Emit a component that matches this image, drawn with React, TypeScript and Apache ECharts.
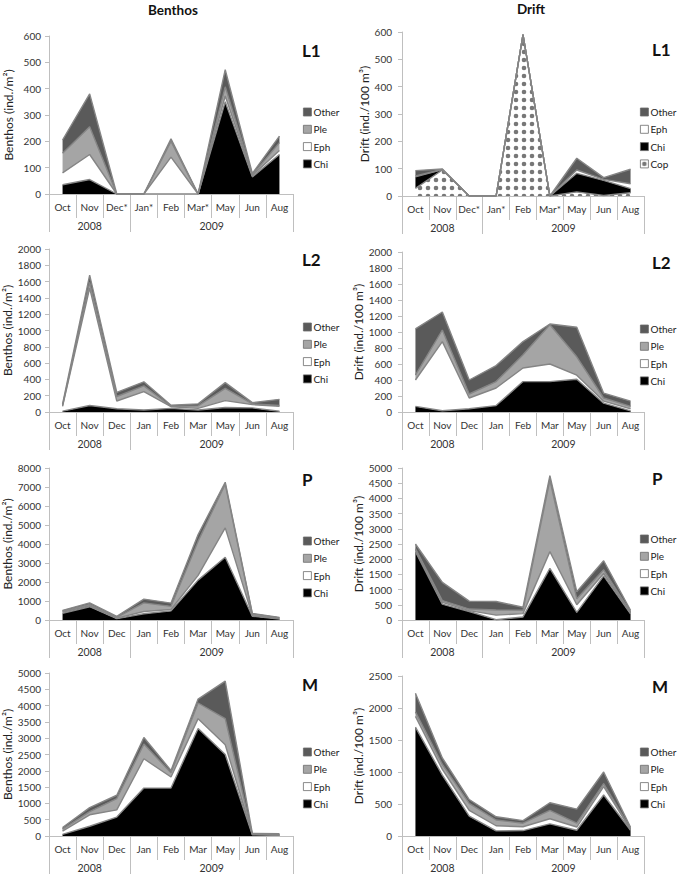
import React, { useEffect, useRef } from 'react';
import * as echarts from 'echarts';

// ---------- categories ----------
const monthsL1 = ['Oct', 'Nov', 'Dec*', 'Jan*', 'Feb', 'Mar*', 'May', 'Jun', 'Aug'];
const months = ['Oct', 'Nov', 'Dec', 'Jan', 'Feb', 'Mar', 'May', 'Jun', 'Aug'];
const yearLabels = ['2008', '2009'];
const yearBounds = [0, 3, 9]; // month-index boundaries of the years
const yearCenters = [1.5, 6];

// ---------- Benthos L1 ----------
const benL1Chi = [35, 55, 0, 0, 0, 0, 350, 65, 150];
const benL1Eph = [45, 95, 0, 0, 140, 0, 22, 5, 15];
const benL1Ple = [75, 105, 0, 0, 60, 0, 35, 3, 30];
const benL1Other = [50, 125, 0, 0, 10, 0, 65, 5, 25];

// ---------- Drift L1 ----------
const drfL1Cop = [28, 95, 0, 0, 590, 0, 15, 2, 12];
const drfL1Chi = [42, 2, 0, 0, 0, 0, 68, 55, 15];
const drfL1Eph = [3, 0, 0, 0, 0, 0, 12, 4, 18];
const drfL1Other = [20, 2, 0, 0, 0, 0, 43, 6, 53];

// ---------- Benthos L2 ----------
const benL2Chi = [10, 80, 40, 25, 45, 25, 55, 50, 10];
const benL2Eph = [60, 1440, 95, 225, 20, 20, 85, 40, 60];
const benL2Ple = [10, 70, 55, 70, 5, 30, 150, 10, 10];
const benL2Other = [15, 90, 50, 50, 12, 25, 70, 15, 75];

// ---------- Drift L2 ----------
const drfL2Chi = [70, 15, 40, 80, 380, 380, 410, 110, 15];
const drfL2Eph = [330, 865, 135, 220, 170, 220, 50, 25, 25];
const drfL2Ple = [60, 145, 50, 80, 165, 490, 230, 40, 30];
const drfL2Other = [580, 225, 175, 200, 165, 10, 370, 60, 65];

// ---------- Benthos P ----------
const benPChi = [350, 700, 70, 330, 480, 2100, 3300, 200, 50];
const benPEph = [60, 50, 30, 120, 70, 250, 1550, 30, 20];
const benPPle = [50, 70, 40, 450, 170, 1800, 2300, 80, 40];
const benPOther = [50, 80, 50, 200, 170, 350, 100, 40, 30];

// ---------- Drift P ----------
const drfPChi = [2250, 520, 280, 10, 100, 1700, 250, 1450, 200];
const drfPEph = [50, 60, 30, 150, 110, 550, 250, 80, 30];
const drfPPle = [50, 60, 50, 170, 110, 2350, 200, 120, 30];
const drfPOther = [150, 600, 260, 280, 100, 150, 230, 300, 60];

// ---------- Benthos M ----------
const benMChi = [50, 300, 580, 1470, 1470, 3300, 2500, 40, 20];
const benMEph = [100, 350, 220, 900, 340, 300, 300, 10, 10];
const benMPle = [60, 100, 350, 450, 130, 480, 800, 10, 10];
const benMOther = [50, 120, 100, 200, 70, 120, 1150, 20, 30];

// ---------- Drift M ----------
const drfMChi = [1700, 950, 310, 80, 85, 190, 90, 640, 90];
const drfMEph = [170, 90, 90, 80, 60, 80, 50, 130, 10];
const drfMPle = [70, 80, 110, 90, 55, 130, 60, 50, 10];
const drfMOther = [290, 100, 60, 50, 40, 120, 220, 180, 25];

// ---------- axis scales ----------
const yMaxes = [600, 600, 2000, 2000, 8000, 5000, 5000, 2500];
const yIntervals = [100, 100, 200, 200, 1000, 500, 500, 500];
const panelLabels = ['L1', 'L1', 'L2', 'L2', 'P', 'P', 'M', 'M'];
const columnTitles = ['Benthos', 'Drift'];
const yNames = ['Benthos (ind./m\u00b2)', 'Drift (ind./100 m\u00b3)'];

const FONT = 'Lato, "Open Sans", "DejaVu Sans", sans-serif';
const C_CHI = '#000000';
const C_EPH = '#ffffff';
const C_PLE = '#a5a5a5';
const C_OTHER = '#5a5a5a';
const C_AXIS = '#bfbfbf';
const C_EDGE = '#858585';

function makeDotPattern(): HTMLCanvasElement {
  const c = document.createElement('canvas');
  c.width = 8;
  c.height = 8;
  const ctx = c.getContext('2d');
  if (ctx) {
    ctx.fillStyle = '#ffffff';
    ctx.fillRect(0, 0, 8, 8);
    ctx.fillStyle = '#777777';
    ctx.beginPath();
    ctx.arc(4, 4, 2.3, 0, Math.PI * 2);
    ctx.fill();
  }
  return c;
}

export default function App() {
  const ref = useRef<HTMLDivElement>(null);

  useEffect(() => {
    if (!ref.current) return;
    const chart = echarts.init(ref.current, undefined, { renderer: 'svg' });
    const dots = { image: makeDotPattern(), repeat: 'repeat' };

    // layout (left column / right column, 4 rows)
    const grids = [
      { left: 49, top: 36, width: 244, height: 158 },
      { left: 402, top: 32, width: 242, height: 164 },
      { left: 49, top: 249, width: 244, height: 163 },
      { left: 402, top: 252, width: 242, height: 160 },
      { left: 49, top: 468, width: 244, height: 152 },
      { left: 402, top: 468, width: 242, height: 152 },
      { left: 49, top: 673, width: 244, height: 163 },
      { left: 402, top: 676, width: 242, height: 160 },
    ];
    const legendTops = [101, 101, 316, 318, 530, 528, 741, 741];
    const labelY = [50, 49, 259, 262, 479, 478, 684, 686];

    const std = (chi: number[], eph: number[], ple: number[], other: number[]) => [
      { name: 'Chi', data: chi, color: C_CHI },
      { name: 'Eph', data: eph, color: C_EPH },
      { name: 'Ple', data: ple, color: C_PLE },
      { name: 'Other', data: other, color: C_OTHER },
    ];
    const panelSeries: any[][] = [
      std(benL1Chi, benL1Eph, benL1Ple, benL1Other),
      [
        { name: 'Cop', data: drfL1Cop, color: dots },
        { name: 'Chi', data: drfL1Chi, color: C_CHI },
        { name: 'Eph', data: drfL1Eph, color: C_EPH },
        { name: 'Other', data: drfL1Other, color: C_OTHER },
      ],
      std(benL2Chi, benL2Eph, benL2Ple, benL2Other),
      std(drfL2Chi, drfL2Eph, drfL2Ple, drfL2Other),
      std(benPChi, benPEph, benPPle, benPOther),
      std(drfPChi, drfPEph, drfPPle, drfPOther),
      std(benMChi, benMEph, benMPle, benMOther),
      std(drfMChi, drfMEph, drfMPle, drfMOther),
    ];

    const xAxis: any[] = [];
    const yAxis: any[] = [];
    const series: any[] = [];
    const legend: any[] = [];
    const graphic: any[] = [];

    grids.forEach((g, i) => {
      const right = i % 2 === 1;
      xAxis.push({
        type: 'category',
        gridIndex: i,
        data: i < 2 ? monthsL1 : months,
        boundaryGap: true,
        axisLine: { show: true, lineStyle: { color: C_AXIS, width: 1 } },
        axisTick: { show: true, interval: 0, length: 24, lineStyle: { color: C_AXIS } },
        axisLabel: { interval: 0, margin: 8, fontSize: 10, color: '#333', fontFamily: FONT },
        splitLine: { show: false },
      });
      xAxis.push({
        type: 'value',
        gridIndex: i,
        min: 0,
        max: 9,
        position: 'bottom',
        axisLine: { show: false },
        splitLine: { show: false },
        axisTick: { show: true, customValues: yearBounds, length: 38, lineStyle: { color: C_AXIS } },
        axisLabel: {
          customValues: yearCenters,
          margin: 26,
          fontSize: 10.5,
          color: '#333',
          fontFamily: FONT,
          formatter: (v: number) => (v < yearBounds[1] ? yearLabels[0] : yearLabels[1]),
        },
      });
      yAxis.push({
        type: 'value',
        gridIndex: i,
        min: 0,
        max: yMaxes[i],
        interval: yIntervals[i],
        axisLine: { show: true, lineStyle: { color: C_AXIS } },
        axisTick: { show: true, length: 4, lineStyle: { color: C_AXIS } },
        splitLine: { show: false },
        axisLabel: {
          fontSize: 10,
          color: '#333',
          margin: right ? 10 : 8,
          fontFamily: FONT,
          formatter: (v: number) => String(v),
        },
        name: yNames[right ? 1 : 0],
        nameLocation: 'middle',
        nameGap: right ? 29 : 35,
        nameTextStyle: { fontSize: 12, color: '#222', fontFamily: FONT },
      });

      const ps = panelSeries[i];
      ps.forEach((s) => {
        series.push({
          type: 'line',
          name: s.name,
          xAxisIndex: 2 * i,
          yAxisIndex: i,
          stack: 'stack' + i,
          data: s.data,
          symbol: 'none',
          smooth: false,
          itemStyle: { color: s.color },
          lineStyle: { color: C_EDGE, width: 1.4 },
          areaStyle: { color: s.color, opacity: 1 },
          emphasis: { disabled: true },
        });
      });

      legend.push({
        orient: 'vertical',
        left: right ? 635 : 298,
        top: legendTops[i],
        itemWidth: 8,
        itemHeight: 8,
        itemGap: 5.3,
        icon: 'rect',
        selectedMode: false,
        data: ps.map((s) => s.name).reverse(),
        itemStyle: { borderColor: '#6b6b6b', borderWidth: 0.8 },
        textStyle: { fontSize: 10, color: '#222', fontFamily: FONT, lineHeight: 12, padding: [0, 0, 0, -3] },
      });

      graphic.push({
        type: 'text',
        x: right ? 652 : 302,
        y: labelY[i],
        style: {
          text: panelLabels[i],
          fontSize: 17,
          fontWeight: 'bold',
          fontFamily: FONT,
          fill: '#111',
          textAlign: 'left',
          textVerticalAlign: 'middle',
        },
      });
    });

    graphic.push({
      type: 'text',
      x: 173,
      y: 10,
      style: {
        text: columnTitles[0],
        fontSize: 13.5,
        fontWeight: 'bold',
        fontFamily: FONT,
        fill: '#111',
        textAlign: 'center',
        textVerticalAlign: 'middle',
      },
    });
    graphic.push({
      type: 'text',
      x: 531,
      y: 9,
      style: {
        text: columnTitles[1],
        fontSize: 13.5,
        fontWeight: 'bold',
        fontFamily: FONT,
        fill: '#111',
        textAlign: 'center',
        textVerticalAlign: 'middle',
      },
    });

    chart.setOption({
      animation: false,
      backgroundColor: '#ffffff',
      textStyle: { fontFamily: FONT },
      grid: grids.map((g) => ({ ...g, containLabel: false })),
      xAxis,
      yAxis,
      series,
      legend,
      graphic,
    });

    return () => {
      chart.dispose();
    };
  }, []);

  return (
    <div
      ref={ref}
      style={{ position: 'absolute', left: 0, top: 0, width: 685, height: 876, background: '#fff' }}
    />
  );
}
